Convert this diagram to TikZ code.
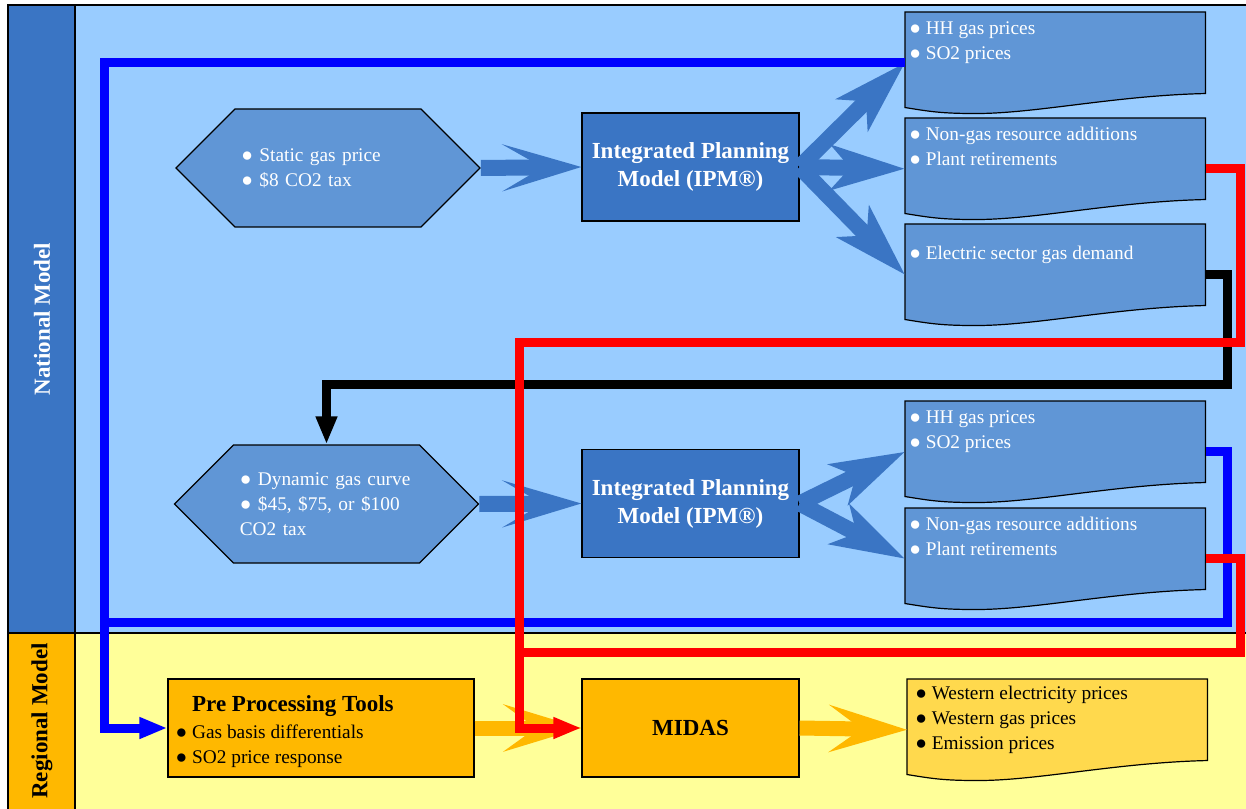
\documentclass[tikz,border=0pt]{standalone}
\usepackage{fontspec}
\setmainfont{Liberation Serif}
\usetikzlibrary{shapes.symbols, arrows.meta, positioning}
\definecolor{natlight}{HTML}{99CCFF}
\definecolor{natdark}{HTML}{3A75C4}
\definecolor{boxblue}{HTML}{6096D6}
\definecolor{reglight}{HTML}{FFFF99}
\definecolor{regdark}{HTML}{FFB800}
\definecolor{outyellow}{HTML}{FFD94D}
\newcommand{\bodyfont}{\fontsize{14.5}{18.75}\selectfont}
\newcommand{\headfont}{\fontsize{17.25}{21}\selectfont\bfseries}
\newcommand{\bul}{●\ }
% document shape with wavy bottom, drawn round an empty node
\newcommand{\docshape}[2]{%
  \filldraw[fill=#2, draw=black, line width=0.9pt]
    (#1.north west) -- (#1.north east) -- ([yshift=15pt]#1.south east)
    .. controls +(-90,2) and +(60,0) .. ([xshift=53.25pt]#1.south west)
    .. controls +(-35,0) and +(25,4) .. ([yshift=4.5pt]#1.south west) -- cycle;}
\tikzset{
    band/.style={font=\headfont, rotate=90},
    hexbox/.style={
        signal, signal to=west and east, draw=black, line width=0.9pt,
        fill=boxblue, text=white, font=\bodyfont, align=left,
        text width=130pt, minimum width=228pt, minimum height=88.5pt, inner sep=0pt
    },
    ipmbox/.style={
        rectangle, draw=black, line width=0.9pt, fill=natdark, text=white,
        font=\headfont, align=center, minimum width=162.75pt, minimum height=81pt
    },
    docbox/.style={rectangle, anchor=north west, minimum width=225pt, minimum height=75.75pt, inner sep=0pt},
    doctext/.style={font=\bodyfont, align=left, inner sep=3pt, anchor=north west},
    toolbox/.style={
        rectangle, draw=black, line width=0.9pt, fill=regdark,
        minimum height=73.5pt
    },
    hexarrow/.style={draw=natdark, line width=12pt, -{Stealth[length=59pt, width=35pt, inset=30pt]}},
    fanarrow/.style={draw=natdark, line width=12pt, -{Stealth[length=55pt, width=33pt, inset=14pt]}},
    yelarrow/.style={draw=regdark, line width=11.25pt, -{Stealth[length=58pt, width=35pt, inset=24pt]}},
    feedline/.style={line width=6.75pt},
    feed/.style={feedline, -{Triangle[length=21pt, width=15pt]}}
}
\begin{document}
\begin{tikzpicture}[x=0.75pt, y=-0.75pt]
\useasboundingbox (0,0) rectangle (1246,809);

% lanes
\fill[natlight] (75,5) rectangle (1246,633);
\fill[natdark] (8,5) rectangle (75,633);
\fill[reglight] (75,633) rectangle (1246,809);
\fill[regdark] (8,633) rectangle (75,809);
\draw[line width=1.5pt] (8,809) -- (8,5) -- (1246,5);
\draw[line width=1.5pt] (75,5) -- (75,809);
\draw[line width=1.5pt] (8,633) -- (1246,633);
\node[band, text=white] (natlabel) at (42,319) {National Model};
\node[band] (reglabel) at (42,721) {Regional Model};

% inputs
\node[hexbox] (hex1) at (328,168) {\bul Static gas price\\\bul \$8 CO2 tax};
\node[hexbox] (hex2) at (326.5,504) {\bul Dynamic gas curve\\\bul \$45, \$75, or \$100\\CO2 tax};

% IPM runs
\node[ipmbox] (ipm1) at (690.5,167) {Integrated Planning\\Model (IPM®)};
\node[ipmbox] (ipm2) at (690.5,503.5) {Integrated Planning\\Model (IPM®)};

% outputs
\node[docbox] (out1) at (905,12) {};
\docshape{out1}{boxblue}
\node[doctext, text=white, yshift=-3.75pt] (out1txt) at (out1.north west) {\bul HH gas prices\\\bul SO2 prices};
\node[docbox] (out2) at (905,118) {};
\docshape{out2}{boxblue}
\node[doctext, text=white, yshift=-3.75pt] (out2txt) at (out2.north west) {\bul Non-gas resource additions\\\bul Plant retirements};
\node[docbox] (out3) at (905,224) {};
\docshape{out3}{boxblue}
\node[doctext, text=white, yshift=-13.5pt] (out3txt) at (out3.north west) {\bul Electric sector gas demand};
\node[docbox] (out4) at (905,401) {};
\docshape{out4}{boxblue}
\node[doctext, text=white, yshift=-3.75pt] (out4txt) at (out4.north west) {\bul HH gas prices\\\bul SO2 prices};
\node[docbox] (out5) at (905,508) {};
\docshape{out5}{boxblue}
\node[doctext, text=white, yshift=-3.75pt] (out5txt) at (out5.north west) {\bul Non-gas resource additions\\\bul Plant retirements};

% regional model
\node[toolbox, minimum width=229.5pt] (pre) at (321,728) {};
\node[doctext, below right=10pt and 3pt of pre.north west] (pretxt)
    {\hphantom{\bul}{\headfont Pre Processing Tools}\\[1pt]\bul Gas basis differentials\\\bul SO2 price response};
\node[toolbox, minimum width=162.75pt, font=\headfont] (midas) at (690.5,728) {MIDAS};
\node[docbox] (out6) at (907,679) {};
\docshape{out6}{outyellow}
\node[doctext, xshift=3pt, yshift=-2pt] (out6txt) at (out6.north west)
    {\bul Western electricity prices\\\bul Western gas prices\\\bul Emission prices};

% fat arrows
\draw[hexarrow] (hex1.east) -- (ipm1.west);
\draw[hexarrow] (hex2.east) -- (ipm2.west);
\draw[fanarrow] (ipm1.east) -- (out1.west);
\draw[fanarrow] (ipm1.east) -- (out2.west);
\draw[fanarrow] (ipm1.east) -- (out3.west);
\draw[fanarrow] (ipm2.east) -- (out4.west);
\draw[fanarrow] (ipm2.east) -- (out5.west);
\draw[yelarrow] (pre.east) -- (midas.west);
\draw[yelarrow] (midas.east) -- (out6.west);

% feedback lines
\coordinate (bluex) at (104,0);
\coordinate (blueret) at (1227,622);
\coordinate (blkturn) at (1227,384);
\coordinate (redtop) at (1240,343);
\coordinate (redx) at (519,343);
\coordinate (redbot) at (1240,652);

\draw[feed, black] (out3.east) -| (blkturn) -| (hex2.north);
\draw[feed, blue] (out1.west) -| (bluex |- pre.west) -- (pre.west);
\draw[feedline, blue] (out4.east) -| (blueret) -- (bluex |- blueret);
\draw[feed, red] (out2.east) -| (redtop) -- (redx) |- (midas.west);
\draw[feedline, red] (out5.east) -| (redbot) -- (redx |- redbot);

\end{tikzpicture}
\end{document}
